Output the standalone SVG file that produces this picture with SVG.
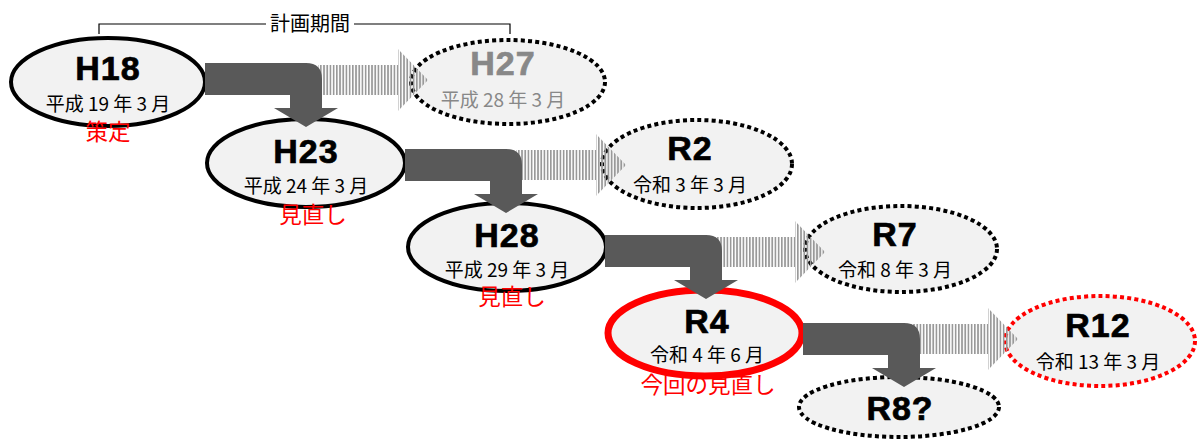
<svg xmlns="http://www.w3.org/2000/svg" width="1197" height="439" viewBox="0 0 1197 439">
<style>
.solid{fill:#f2f2f2;stroke:#000;stroke-width:4}
.cur{fill:#f2f2f2;stroke:#ff0000;stroke-width:7}
.dot{fill:#f2f2f2;stroke:#000;stroke-width:4;stroke-dasharray:4 3.2}
.dotr{fill:#f2f2f2;stroke:#ff0000;stroke-width:4;stroke-dasharray:4 3.2}
.t{font-family:"Liberation Sans",Arial,sans-serif;font-weight:bold;font-size:34px;text-anchor:middle;fill:#000;stroke:#000;stroke-width:0.7;letter-spacing:1px}
.s{font-family:"Noto Sans CJK JP","Noto Sans",sans-serif;font-size:19px;text-anchor:middle;fill:#000}
.g{fill:#888;stroke:#888}
.gs{fill:#888}
.lab{font-family:"Noto Sans CJK JP","Noto Sans",sans-serif;font-size:22.5px;text-anchor:middle;fill:#ff0000}
.br{font-family:"Noto Sans CJK JP","Noto Sans",sans-serif;font-size:20px;text-anchor:middle;fill:#000}
.bend{fill:#595959}
.stripe{fill:url(#stripes)}
</style>
<defs>
<pattern id="stripes" patternUnits="userSpaceOnUse" width="3.2" height="10">
<rect x="0" y="0" width="1.7" height="10" fill="#999"/>
</pattern>
<path id="bentArrow" d="M205,63 H306 Q322,63 322,79 V108 H338 L306,127 L274,108 H290 V95 H205 Z"/>
<path id="stripeArrow" d="M318,65 H398 V49 L428,80 L398,111 V95 H318 Z"/>
</defs>

<g id="bracket" fill="none" stroke="#000" stroke-width="1.2">
<path d="M99,34 V24 H266 M354,24 H510 V34"/>
</g>
<text class="br" x="310" y="31">計画期間</text>

<g id="node-H18">
<ellipse class="solid" cx="108" cy="82" rx="97" ry="44"/>
<text class="t" x="108" y="80">H18</text>
<text class="s" x="108" y="111">平成 19 年 3 月</text>
</g>
<g id="node-H23">
<ellipse class="solid" cx="306" cy="163" rx="99" ry="44"/>
<text class="t" x="306" y="163">H23</text>
<text class="s" x="306" y="193">平成 24 年 3 月</text>
</g>
<g id="node-H28">
<ellipse class="solid" cx="507" cy="247" rx="99" ry="44"/>
<text class="t" x="507" y="247">H28</text>
<text class="s" x="507" y="277">平成 29 年 3 月</text>
</g>
<g id="node-R4">
<ellipse class="cur" cx="705" cy="333" rx="97" ry="43"/>
<text class="t" x="707" y="333">R4</text>
<text class="s" x="707" y="362">令和 4 年 6 月</text>
</g>
<g id="node-H27">
<ellipse class="dot" cx="508" cy="82" rx="97" ry="42"/>
<text class="t g" x="503" y="75">H27</text>
<text class="s gs" x="503" y="107">平成 28 年 3 月</text>
</g>
<g id="node-R2">
<ellipse class="dot" cx="697" cy="164" rx="95" ry="44"/>
<text class="t" x="690" y="160">R2</text>
<text class="s" x="690" y="192">令和 3 年 3 月</text>
</g>
<g id="node-R7">
<ellipse class="dot" cx="901" cy="249" rx="96" ry="43"/>
<text class="t" x="895" y="246">R7</text>
<text class="s" x="895" y="277">令和 8 年 3 月</text>
</g>
<g id="node-R12">
<ellipse class="dotr" cx="1100" cy="341" rx="95" ry="45"/>
<text class="t" x="1098" y="337">R12</text>
<text class="s" x="1098" y="369">令和 13 年 3 月</text>
</g>
<g id="node-R8">
<ellipse class="dot" cx="899" cy="407" rx="100" ry="30"/>
<text class="t" x="900" y="420">R8?</text>
</g>

<g id="connectors">
<use href="#stripeArrow" class="stripe"/>
<use href="#stripeArrow" class="stripe" transform="translate(198,85)"/>
<use href="#stripeArrow" class="stripe" transform="translate(397,172)"/>
<use href="#stripeArrow" class="stripe" transform="translate(590,259)"/>
<use href="#bentArrow" class="bend"/>
<use href="#bentArrow" class="bend" transform="translate(200,86)"/>
<use href="#bentArrow" class="bend" transform="translate(400,172)"/>
<use href="#bentArrow" class="bend" transform="translate(598,260)"/>
</g>

<g id="labels">
<text class="lab" x="108" y="140">策定</text>
<text class="lab" x="313" y="223">見直し</text>
<text class="lab" x="512" y="305">見直し</text>
<text class="lab" x="708" y="393">今回の見直し</text>
</g>
</svg>
